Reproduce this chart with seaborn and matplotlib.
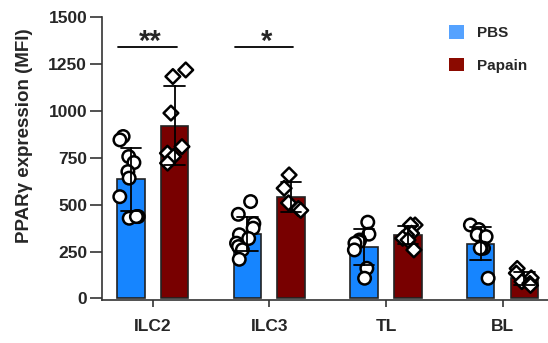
import numpy as np
import pandas as pd
import matplotlib
matplotlib.use("Agg")
import matplotlib.pyplot as plt
from matplotlib.patches import Patch
import seaborn as sns

# ---- data ----
categories = ["ILC2", "ILC3", "TL", "BL"]
groups = ["PBS", "Papain"]
pbs_ilc2 = [864, 846, 757, 725, 677, 642, 543, 428, 437, 437]
pap_ilc2 = [1219, 1184, 989, 810, 775, 757, 722]
pbs_ilc3 = [517, 449, 400, 375, 340, 320, 295, 277, 260, 209]
pap_ilc3 = [659, 588, 510, 480, 470]
pbs_tl = [407, 343, 312, 303, 295, 259, 161, 108]
pap_tl = [392, 392, 348, 339, 321, 312, 259]
pbs_bl = [392, 368, 340, 330, 268, 268, 268, 108]
pap_bl = [160, 135, 110, 90, 80, 70]
yticks = [0, 250, 500, 750, 1000, 1250, 1500]
sig_labels = ["**", "*"]

series = {
    ("ILC2", "PBS"): pbs_ilc2, ("ILC2", "Papain"): pap_ilc2,
    ("ILC3", "PBS"): pbs_ilc3, ("ILC3", "Papain"): pap_ilc3,
    ("TL", "PBS"): pbs_tl, ("TL", "Papain"): pap_tl,
    ("BL", "PBS"): pbs_bl, ("BL", "Papain"): pap_bl,
}
rows = []
for (c, g), vals in series.items():
    for v in vals:
        rows.append({"cell": c, "group": g, "value": v})
df = pd.DataFrame(rows)

sns.set_style("ticks")
plt.rcParams["font.family"] = ["Liberation Sans", "DejaVu Sans"]
plt.rcParams["font.weight"] = "bold"

fig = plt.figure(figsize=(5.48, 3.43), dpi=100)
ax = fig.add_axes([0.1856, 0.1254, 0.8144, 0.8242])

bar_pal = {"PBS": "#1685FF", "Papain": "#780000"}
sns.barplot(data=df, x="cell", y="value", hue="group", order=categories,
            hue_order=groups, palette=bar_pal, errorbar="sd", capsize=0.35,
            err_kws={"color": "black", "linewidth": 1.3, "zorder": 4},
            width=0.75, gap=0.37, edgecolor="#222222", linewidth=1.2,
            saturation=1, legend=False, ax=ax)

np.random.seed(11)
white = {"PBS": "white", "Papain": "white"}
sns.stripplot(data=df[df.group == "PBS"], x="cell", y="value", hue="group",
              order=categories, hue_order=groups, palette=white, dodge=True,
              jitter=0.17, marker="o", size=9, edgecolor="black", linewidth=1.8,
              legend=False, zorder=3, ax=ax)
sns.stripplot(data=df[df.group == "Papain"], x="cell", y="value", hue="group",
              order=categories, hue_order=groups, palette=white, dodge=True,
              jitter=0.17, marker="D", size=7.5, edgecolor="black", linewidth=1.8,
              legend=False, zorder=3, ax=ax)

ax.set_xlim(-0.438, 3.39)
ax.set_ylim(-8, 1500)
ax.set_yticks(yticks)
ax.set_yticklabels([str(t) for t in yticks], fontsize=12.5, fontweight="bold")
ax.set_xticks(range(len(categories)))
ax.set_xticklabels(categories, fontsize=12.5, fontweight="bold")
ax.set_xlabel("")
ax.set_ylabel("PPARγ expression (MFI)", fontsize=13.5, fontweight="bold")
ax.yaxis.set_label_coords(-0.154, 0.58)

for s in ["top", "right"]:
    ax.spines[s].set_visible(False)
for s in ["left", "bottom"]:
    ax.spines[s].set_linewidth(1.2)
    ax.spines[s].set_color("#333333")
ax.tick_params(axis="y", length=9, width=1.2, color="#333333", pad=1.5)
ax.tick_params(axis="x", length=5, width=1.2, color="#333333", pad=9)

# significance annotations
for i, lab in enumerate(sig_labels):
    ax.plot([i - 0.295, i + 0.205], [1342, 1342], color="black", lw=1.3,
            clip_on=False)
    ax.text(i - 0.02, 1325, lab, ha="center", va="baseline", fontsize=21,
            fontweight="bold")

handles = [Patch(facecolor="#55A2FF", edgecolor="none"),
           Patch(facecolor="#8B0A00", edgecolor="none")]
fig.legend(handles, groups, loc="upper left",
           bbox_to_anchor=(449 / 548, 1 - 25 / 343), frameon=False,
           prop={"size": 11, "weight": "bold"}, handlelength=1.0,
           handleheight=1.0, handletextpad=0.8, labelspacing=1.15,
           borderpad=0, borderaxespad=0)

fig.savefig("out.png", dpi=100)
